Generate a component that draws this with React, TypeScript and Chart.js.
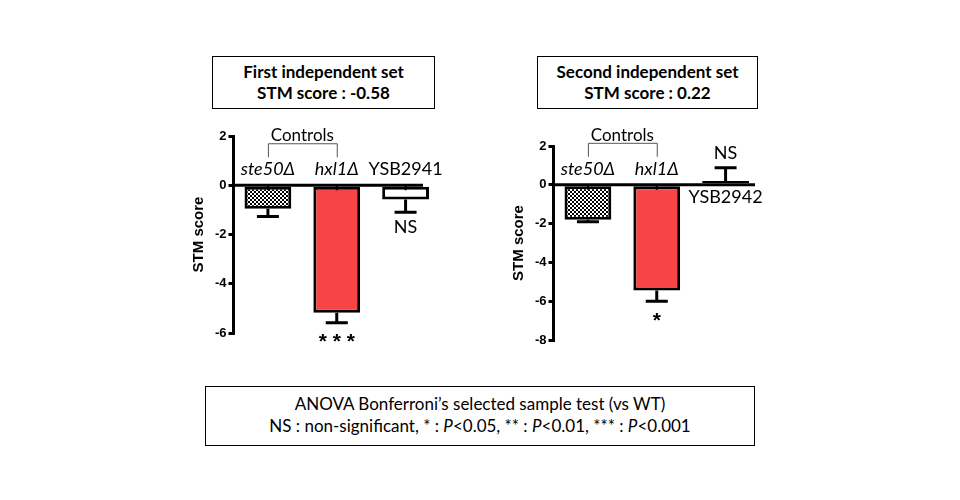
import React, { useEffect, useRef } from 'react';
import { Chart, registerables } from 'chart.js';

Chart.register(...registerables);

// first independent set
const set1Labels = ['ste50Δ', 'hxl1Δ', 'YSB2941'];
const set1Values = [-0.95, -5.18, -0.58];
const set1Errors = [0.32, 0.4, 0.52];
const set1Sig = ['', '***', 'NS'];
const set1Ticks = [2, -6];

// second independent set
const set2Labels = ['ste50Δ', 'hxl1Δ', 'YSB2942'];
const set2Values = [-1.8, -5.45, 0.2];
const set2Errors = [0.1, 0.55, 0.68];
const set2Sig = ['', '*', 'NS'];
const set2Ticks = [2, -8];

const italicLabels = [true, true, false];
const controlIdx = [0, 1];

const RED = '#F74545';
const LABEL_FONT = '"Lato", "Open Sans", sans-serif';
const AXIS_FONT = '"Liberation Sans", Arial, sans-serif';

function checker(): CanvasPattern | string {
  const c = document.createElement('canvas');
  c.width = 4;
  c.height = 4;
  const g = c.getContext('2d');
  if (!g) return '#888';
  g.fillStyle = '#fff';
  g.fillRect(0, 0, 4, 4);
  g.fillStyle = '#000';
  g.fillRect(0, 0, 2, 2);
  g.fillRect(2, 2, 2, 2);
  return g.createPattern(c, 'repeat') || '#888';
}

interface StmChartProps {
  labels: string[];
  values: number[];
  errors: number[];
  sig: string[];
  range: number[];
  left: number;
  top: number;
  width: number;
  height: number;
  padTop: number;
  padBottom: number;
  zeroLineRight: number;
}

const StmChart: React.FC<StmChartProps> = (p) => {
  const chartRef = useRef<HTMLCanvasElement>(null);
  const chartInstanceRef = useRef<Chart>();

  useEffect(() => {
    if (!chartRef.current) return;
    const ctx = chartRef.current.getContext('2d');
    if (!ctx) return;
    if (chartInstanceRef.current) chartInstanceRef.current.destroy();

    const annotations = {
      id: 'annotations',
      afterDatasetsDraw(chart: any) {
        const c = chart.ctx;
        const y = chart.scales.y;
        const area = chart.chartArea;
        const meta = chart.getDatasetMeta(0);
        const zero = y.getPixelForValue(0);
        c.save();
        c.strokeStyle = '#000';
        c.fillStyle = '#000';
        c.lineWidth = 3;

        // zero line
        c.beginPath();
        c.moveTo(area.left, zero);
        c.lineTo(p.zeroLineRight, zero);
        c.stroke();

        meta.data.forEach((bar: any, i: number) => {
          const v = p.values[i];
          const dir = v < 0 ? -1 : 1;
          const end = y.getPixelForValue(v);
          const errEnd = y.getPixelForValue(v + dir * p.errors[i]);
          // error bar
          c.lineWidth = 3;
          c.beginPath();
          c.moveTo(bar.x, end);
          c.lineTo(bar.x, errEnd);
          c.moveTo(bar.x - 11, errEnd);
          c.lineTo(bar.x + 11, errEnd);
          c.stroke();
          if (dir < 0) {
            c.lineWidth = 2;
            c.beginPath();
            c.moveTo(bar.x, zero);
            c.lineTo(bar.x, zero + 5);
            c.stroke();
          }

          // category label
          c.textAlign = 'center';
          c.font = `${italicLabels[i] ? 'italic ' : ''}18px ${LABEL_FONT}`;
          if (dir < 0) {
            c.textBaseline = 'alphabetic';
            c.fillText(p.labels[i], bar.x, zero - 10);
          } else {
            c.textBaseline = 'top';
            c.fillText(p.labels[i], bar.x, zero + 3);
          }

          // significance
          const s = p.sig[i];
          if (s) {
            c.textBaseline = 'middle';
            if (s === 'NS') {
              c.font = `18px ${LABEL_FONT}`;
              c.fillText(s, bar.x, errEnd + dir * -15);
            } else {
              c.font = `bold 21px ${AXIS_FONT}`;
              c.fillText(s.split('').join(' '), bar.x, errEnd + 20);
            }
          }
        });

        // Controls bracket
        const x0 = meta.data[controlIdx[0]].x;
        const x1 = meta.data[controlIdx[1]].x;
        c.lineWidth = 1;
        c.strokeStyle = '#555';
        c.beginPath();
        c.moveTo(x0 + 0.5, zero - 28);
        c.lineTo(x0 + 0.5, zero - 41.5);
        c.lineTo(x1 + 0.5, zero - 41.5);
        c.lineTo(x1 + 0.5, zero - 28);
        c.stroke();
        c.font = `17px ${LABEL_FONT}`;
        c.textBaseline = 'alphabetic';
        c.fillText('Controls', (x0 + x1) / 2, zero - 44);
        c.restore();
      },
    };

    chartInstanceRef.current = new Chart(ctx, {
      type: 'bar',
      data: {
        labels: p.labels,
        datasets: [
          {
            data: p.values,
            backgroundColor: [checker(), RED, '#fff'] as any,
            borderColor: '#000',
            borderWidth: 3,
            borderSkipped: false,
            barPercentage: 0.68,
            categoryPercentage: 1,
          },
        ],
      },
      options: {
        responsive: false,
        animation: false,
        layout: { padding: { left: 10, right: 10, top: p.padTop, bottom: p.padBottom } },
        plugins: { legend: { display: false }, tooltip: { enabled: false } },
        scales: {
          x: { display: false, offset: true },
          y: {
            min: p.range[1],
            max: p.range[0],
            afterFit: (scale: any) => {
              scale.width = 53.5;
            },
            ticks: {
              stepSize: 2,
              padding: 2,
              color: '#000',
              font: { family: AXIS_FONT, size: 13, weight: 'bold' },
            },
            grid: {
              drawOnChartArea: false,
              drawTicks: true,
              tickLength: 5,
              color: '#000',
              lineWidth: 3,
            },
            border: { display: true, color: '#000', width: 3 },
            title: {
              display: true,
              text: 'STM score',
              color: '#000',
              padding: { top: 10, bottom: 0 },
              font: { family: AXIS_FONT, size: 15, weight: 'bold' },
            },
          },
        },
      },
      plugins: [annotations],
    });

    return () => {
      if (chartInstanceRef.current) chartInstanceRef.current.destroy();
    };
  }, [p]);

  return (
    <canvas
      ref={chartRef}
      width={p.width}
      height={p.height}
      style={{ position: 'absolute', left: p.left, top: p.top, width: p.width, height: p.height }}
    />
  );
};

const boxStyle: React.CSSProperties = {
  position: 'absolute',
  border: '1.5px solid #000',
  boxSizing: 'border-box',
  textAlign: 'center',
  fontFamily: LABEL_FONT,
  color: '#000',
  background: '#fff',
};

const left = {
  labels: set1Labels, values: set1Values, errors: set1Errors, sig: set1Sig, range: set1Ticks,
  left: 170, top: 115, width: 280, height: 245, padTop: 21, padBottom: 27, zeroLineRight: 253,
};
const right = {
  labels: set2Labels, values: set2Values, errors: set2Errors, sig: set2Sig, range: set2Ticks,
  left: 490, top: 115, width: 280, height: 245, padTop: 31, padBottom: 20, zeroLineRight: 265,
};

export default function App() {
  return (
    <div style={{ position: 'absolute', left: 0, top: 0, width: 960, height: 500, background: '#fff', overflow: 'hidden' }}>
      <StmChart {...left} />
      <StmChart {...right} />
      <div style={{ ...boxStyle, left: 212, top: 56, width: 223, height: 53, fontWeight: 'bold', fontSize: 17, lineHeight: '21px', paddingTop: 4 }}>
        First independent set<br />STM score : -0.58
      </div>
      <div style={{ ...boxStyle, left: 537, top: 56, width: 221, height: 53, fontWeight: 'bold', fontSize: 17, lineHeight: '21px', paddingTop: 4 }}>
        Second independent set<br />STM score : 0.22
      </div>
      <div style={{ ...boxStyle, left: 205, top: 386, width: 550, height: 60, fontSize: 17, lineHeight: '22px', paddingTop: 6 }}>
        ANOVA Bonferroni’s selected sample test (vs WT)<br />
        NS : non-significant, * : <i>P</i>&lt;0.05, ** : <i>P</i>&lt;0.01, *** : <i>P</i>&lt;0.001
      </div>
    </div>
  );
}
